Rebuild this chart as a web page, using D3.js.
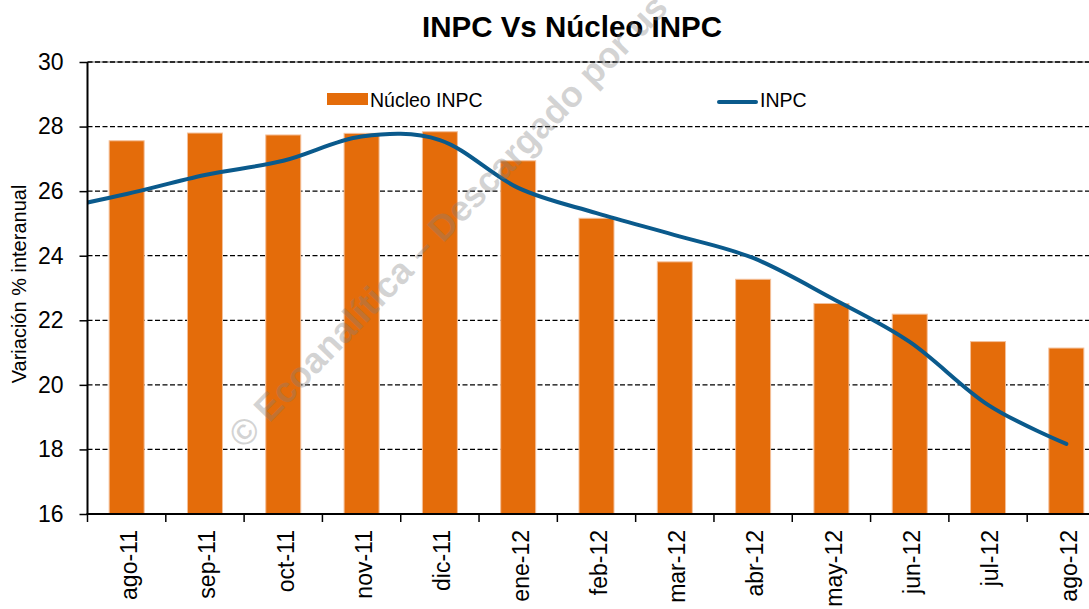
<!DOCTYPE html>
<html>
<head>
<meta charset="utf-8">
<script src="https://cdn.jsdelivr.net/npm/d3@7"></script>
<style>
  body { margin: 0; background: #fff; }
  svg { display: block; font-family: 'Liberation Sans', Arial, sans-serif; }
</style>
</head>
<body>
<div id="chart"></div>
<script>
/* global d3 */

const categories = ['ago-11', 'sep-11', 'oct-11', 'nov-11', 'dic-11', 'ene-12', 'feb-12',
  'mar-12', 'abr-12', 'may-12', 'jun-12', 'jul-12', 'ago-12']
const nucleoINPC = [27.56, 27.8, 27.74, 27.79, 27.84, 26.94, 25.16, 23.81, 23.27, 22.52, 22.19, 21.34, 21.14]
// jul-11 value: only the clipped piece of line before ago-11 shows
const inpcPrev = 25.4
const inpc = [25.91, 26.5, 26.94, 27.69, 27.58, 26.1, 25.32, 24.64, 23.93, 22.69, 21.33, 19.38, 18.17]
const yTicks = [16, 18, 20, 22, 24, 26, 28, 30]

const W = 1089, H = 609
const margin = {top: 62, left: 87.5}
const plotW = 1018, plotH = 452

const svg = d3.select('#chart')
  .append('svg')
  .attr('width', W)
  .attr('height', H)

const g = svg.append('g')
  .attr('transform', `translate(${margin.left},${margin.top})`)

const x = d3.scaleBand()
  .domain(categories)
  .range([0, plotW])
  .paddingInner(0.553)
  .paddingOuter(0.2765)

const y = d3.scaleLinear()
  .domain([16, 30])
  .range([plotH, 0])

const step = x.step()
const gap = (step - x.bandwidth()) / 2

// title
svg.append('text')
  .text('INPC Vs Núcleo INPC')
  .attr('x', 572)
  .attr('y', 37)
  .attr('text-anchor', 'middle')
  .attr('font-size', '29.5px')
  .attr('font-weight', 'bold')
  .attr('fill', '#000')

// grid
g.append('line')
  .attr('x1', 0).attr('x2', plotW)
  .attr('y1', y(30)).attr('y2', y(30))
  .attr('stroke', '#9a9a9a')
  .attr('stroke-width', 1.5)

g.selectAll('.grid')
  .data(yTicks.filter(d => d > 16))
  .enter()
  .append('line')
  .attr('class', 'grid')
  .attr('x1', 0).attr('x2', plotW)
  .attr('y1', d => y(d)).attr('y2', d => y(d))
  .attr('stroke', '#000')
  .attr('stroke-width', 1.3)
  .attr('stroke-dasharray', '5,2.5')

// bars
g.selectAll('.bar')
  .data(categories)
  .enter()
  .append('rect')
  .attr('class', 'bar')
  .attr('x', d => x(d))
  .attr('y', (d, i) => y(nucleoINPC[i]))
  .attr('width', x.bandwidth())
  .attr('height', (d, i) => plotH - y(nucleoINPC[i]))
  .attr('fill', '#e46c0a')
  .attr('stroke', '#f4c09a')
  .attr('stroke-width', 1)

// line, on bar centres; clipped to the plot area like the original
const xi = d3.scaleLinear()
  .domain([0, categories.length - 1])
  .range([x(categories[0]) + x.bandwidth() / 2, x(categories[categories.length - 1]) + x.bandwidth() / 2])

const linePts = [{i: -1, v: inpcPrev}].concat(inpc.map((v, i) => ({i: i, v: v})))

g.append('clipPath')
  .attr('id', 'plotclip')
  .append('rect')
  .attr('x', 0).attr('y', -6)
  .attr('width', plotW + 10).attr('height', plotH + 12)

g.append('path')
  .datum(linePts)
  .attr('clip-path', 'url(#plotclip)')
  .attr('fill', 'none')
  .attr('stroke', '#0a5a8c')
  .attr('stroke-width', 4)
  .attr('stroke-linecap', 'round')
  .attr('d', d3.line()
    .x(d => xi(d.i))
    .y(d => y(d.v))
    .curve(d3.curveCardinal.tension(0)))

// y axis
const yAxis = g.append('g')
  .call(d3.axisLeft(y).tickValues(yTicks).tickSize(8).tickPadding(16))
yAxis.select('.domain').remove()
yAxis.selectAll('.tick line').attr('stroke', '#000').attr('stroke-width', 1.5)
yAxis.selectAll('.tick text')
  .attr('font-size', '23px')
  .attr('font-family', "'Liberation Sans', Arial, sans-serif")
  .attr('fill', '#000')

g.append('line')
  .attr('x1', 0).attr('x2', 0)
  .attr('y1', 0).attr('y2', plotH + 1)
  .attr('stroke', '#000')
  .attr('stroke-width', 2)

// x axis
const xAxis = g.append('g')
  .attr('transform', `translate(0,${plotH})`)
  .call(d3.axisBottom(x).tickSize(0))
xAxis.select('.domain').remove()
xAxis.selectAll('.tick text')
  .attr('transform', 'rotate(-90)')
  .attr('text-anchor', 'end')
  .attr('x', -16)
  .attr('y', 0)
  .attr('dy', '0.45em')
  .attr('font-size', '23px')
  .attr('font-family', "'Liberation Sans', Arial, sans-serif")
  .attr('fill', '#000')

g.selectAll('.xtick')
  .data(categories)
  .enter()
  .append('line')
  .attr('class', 'xtick')
  .attr('x1', d => x(d) - gap).attr('x2', d => x(d) - gap)
  .attr('y1', plotH).attr('y2', plotH + 8)
  .attr('stroke', '#000')
  .attr('stroke-width', 1.5)

g.append('line')
  .attr('x1', -1).attr('x2', plotW)
  .attr('y1', plotH).attr('y2', plotH)
  .attr('stroke', '#000')
  .attr('stroke-width', 2)

// y title
svg.append('text')
  .text('Variación % interanual')
  .attr('transform', 'translate(26,284) rotate(-90)')
  .attr('text-anchor', 'middle')
  .attr('font-size', '20px')
  .attr('fill', '#000')

// legend
const legend = svg.append('g')
legend.append('rect')
  .attr('x', 327).attr('y', 93)
  .attr('width', 41).attr('height', 12)
  .attr('fill', '#e46c0a')
legend.append('text')
  .text('Núcleo INPC')
  .attr('x', 370).attr('y', 107)
  .attr('font-size', '19.5px')
  .attr('fill', '#000')
legend.append('line')
  .attr('x1', 719).attr('x2', 756)
  .attr('y1', 102).attr('y2', 102)
  .attr('stroke', '#0a5a8c')
  .attr('stroke-width', 4)
  .attr('stroke-linecap', 'round')
legend.append('text')
  .text('INPC')
  .attr('x', 760).attr('y', 107)
  .attr('font-size', '19.5px')
  .attr('fill', '#000')

// watermark
svg.append('text')
  .text('© Ecoanalítica – Descargado por us')
  .attr('transform', 'translate(244,450) rotate(-46)')
  .attr('font-size', '36px')
  .attr('font-weight', 'bold')
  .attr('fill', '#7f7f7f')
  .attr('fill-opacity', 0.34)
</script>
</body>
</html>
